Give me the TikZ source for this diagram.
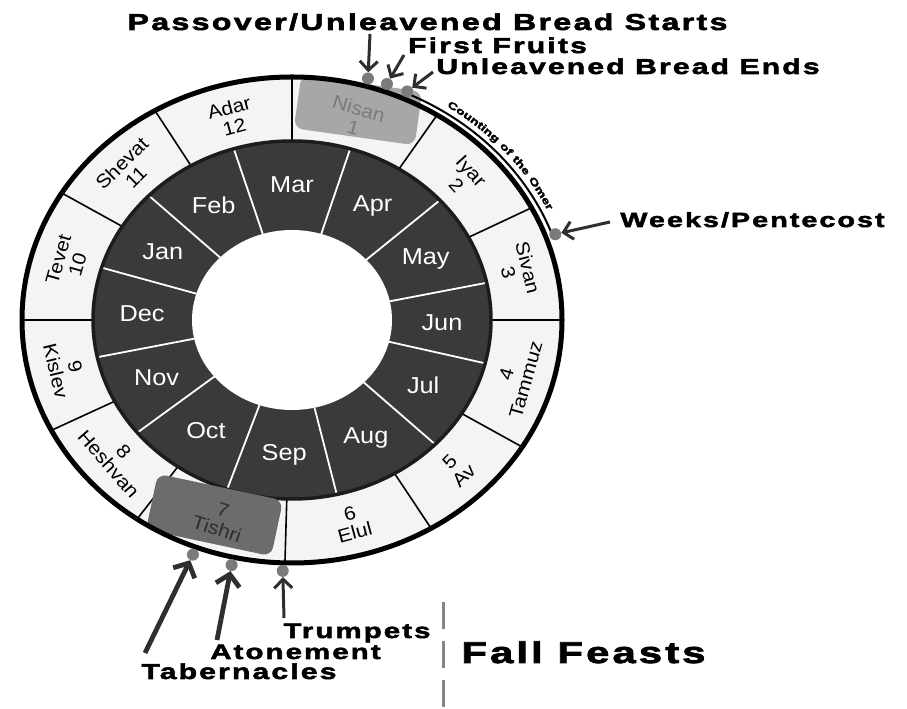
\documentclass[tikz,border=0pt]{standalone}
\usepackage{fontspec}
\setmainfont{Liberation Sans}
\newfontfamily\ringfont[FakeStretch=1.1]{Liberation Sans}
\newfontfamily\feastfont[FakeStretch=1.4,LetterSpace=10,FakeBold=2.5]{Liberation Sans Bold}
\newcommand\omerfont{\feastfont\fontsize{10}{10}\selectfont}
\usetikzlibrary{arrows.meta,decorations.text}

\definecolor{ringwhite}{HTML}{F4F4F4}
\definecolor{ringdark}{HTML}{3A3A3A}
\definecolor{ringedge}{HTML}{1C1C1C}
\definecolor{nisangray}{HTML}{A7A7A7}
\definecolor{nisantext}{HTML}{7A7A7A}
\definecolor{tishrigray}{HTML}{6C6C6C}
\definecolor{tishritext}{HTML}{2E2E2E}
\definecolor{dotgray}{HTML}{7B7B7B}
\definecolor{arrowgray}{HTML}{2F2F2F}
\definecolor{dashgray}{HTML}{858585}

\tikzset{
  hebmonth/.style={font=\ringfont\fontsize{19}{20}\selectfont, align=center, inner sep=0pt},
  civmonth/.style={font=\ringfont\fontsize{23}{23}\selectfont, text=white, inner sep=0pt},
  feastlabel/.style={font=\feastfont\fontsize{21.5}{22}\selectfont, anchor=base, inner sep=0pt},
  feastdot/.style={circle, fill=dotgray, minimum size=12pt, inner sep=0pt},
  feastarrow/.style={draw=arrowgray, line width=3pt, -{Straight Barb[length=9pt,width=18pt]}},
  bigarrow/.style={draw=arrowgray, line width=4.8pt, -{Straight Barb[length=11pt,width=24pt]}},
  monthbox/.style={rounded corners=9pt, inner sep=0pt}
}

\begin{document}
\begin{tikzpicture}[x=1pt,y=1pt]
  \fill[white] (0,0) rectangle (907,709);
  \useasboundingbox (0,0) rectangle (907,709);

  % the wheel
  \begin{scope}[shift={(292,389)}]
    \fill[ringwhite] (0,0) circle[x radius=270, y radius=243];
    \foreach \a in {90,57.5,27.5,0,-31.5,-59,-91.5,-125,-153,180,148.5,120.5}
      \draw[line width=1.6pt] (\a:199 and 179) -- (\a:270 and 243);

    \fill[ringdark] (0,0) circle[x radius=199, y radius=179];
    \fill[white] (0,0) circle[x radius=100, y radius=90];
    \foreach \a in {107,73,42,12,-14,-44,-77,-109,-141,-168,163,136}
      \draw[white, line width=1.8pt] (\a:100 and 90) -- (\a:199 and 179);
    \draw[ringedge, line width=3.5pt] (0,0) circle[x radius=199, y radius=179];

    % highlighted months
    \node[monthbox, fill=nisangray, minimum width=122pt, minimum height=54pt, rotate=-8] (nisanbox) at (66,210) {};
    \node[monthbox, fill=tishrigray, minimum width=128pt, minimum height=57pt, rotate=-12] (tishribox) at (-77.5,-195) {};

    % hebrew months
    \node[hebmonth, text=nisantext, rotate=-16] (nisan) at (74:233 and 210) {Nisan\\1};
    \node[hebmonth, rotate=-47.5] (iyar) at (42.5:233 and 210) {Iyar\\2};
    \node[hebmonth, rotate=-76.25] (sivan) at (13.75:233 and 210) {Sivan\\3};
    \node[hebmonth, rotate=74.25] (tammuz) at (-15.75:233 and 210) {4\\Tammuz};
    \node[hebmonth, rotate=45] (av) at (-45:233 and 210) {5\\Av};
    \node[hebmonth, rotate=15] (elul) at (-75:233 and 210) {6\\Elul};
    \node[hebmonth, text=tishritext, rotate=-18] (tishri) at (-108:233 and 210) {7\\Tishri};
    \node[hebmonth, rotate=-49] (heshvan) at (-139:233 and 210) {8\\Heshvan};
    \node[hebmonth, rotate=-76.5] (kislev) at (-166.5:233 and 210) {9\\Kislev};
    \node[hebmonth, rotate=74] (tevet) at (164:233 and 210) {Tevet\\10};
    \node[hebmonth, rotate=44.5] (shevat) at (134.5:233 and 210) {Shevat\\11};
    \node[hebmonth, rotate=15] (adar) at (105:233 and 210) {Adar\\12};

    % civil months
    \foreach \a/\m in {90/Mar,57.5/Apr,27/May,-1/Jun,-29/Jul,-60.5/Aug,-93/Sep,-125/Oct,-154.5/Nov,177.5/Dec,149.5/Jan,121.5/Feb}
      \node[civmonth] (\m) at (\a:150 and 135) {\m};

    \draw[line width=5pt] (0,0) circle[x radius=270, y radius=243];

    % counting of the omer
    \draw[line width=2pt] (65.6:277 and 249) arc[start angle=65.6, end angle=19.9, x radius=277, y radius=249];
    \path[decorate, decoration={text along path, text={|\omerfont|Counting of the Omer}, text align=center}]
      (61:283 and 255) arc[start angle=61, end angle=21, x radius=283, y radius=255];

    % feast dots
    \node[feastdot] (dpass) at (74.2:279 and 251) {};
    \node[feastdot] (dfruit) at (70.1:279 and 251) {};
    \node[feastdot] (dbread) at (65.6:279 and 251) {};
    \node[feastdot] (dweeks) at (19.9:280 and 252) {};
    \node[feastdot] (dtrump) at (-91.9:279 and 251) {};
    \node[feastdot] (daton) at (-102.5:279 and 251) {};
    \node[feastdot] (dtaber) at (-110.8:279 and 251) {};
  \end{scope}

  % spring feasts
  \node[feastlabel, font=\feastfont\fontsize{23}{23}\selectfont] (pass) at (427.5,679) {Passover/Unleavened Bread Starts};
  \node[feastlabel] (fruit) at (497.5,656) {First Fruits};
  \node[feastlabel] (bread) at (628,635) {Unleavened Bread Ends};
  \node[feastlabel, font=\feastfont\fontsize{20.5}{21}\selectfont] (weeks) at (752.5,482) {Weeks/Pentecost};

  % fall feasts
  \node[feastlabel, font=\feastfont\fontsize{21}{21}\selectfont] (trump) at (357,71) {Trumpets};
  \node[feastlabel, font=\feastfont\fontsize{21}{21}\selectfont] (aton) at (295.5,50) {Atonement};
  \node[feastlabel] (taber) at (239,30) {Tabernacles};
  \node[feastlabel, font=\feastfont\fontsize{30}{30}\selectfont] (fall) at (583.5,46) {Fall Feasts};

  \coordinate (passtail) at (370,675);
  \coordinate (fruittail) at (404,654);
  \coordinate (breadtail) at (433,637);
  \coordinate (weekstail) at (610,487);
  \coordinate (trumptail) at (284,91);
  \coordinate (atontail) at (217,69);
  \coordinate (tabertail) at (145,56);

  \draw[feastarrow] (passtail) -- (dpass);
  \draw[feastarrow] (fruittail) -- (dfruit);
  \draw[feastarrow] (breadtail) -- (dbread);
  \draw[feastarrow] (weekstail) -- (dweeks);
  \draw[feastarrow] (trumptail) -- (dtrump);
  \draw[bigarrow] (atontail) -- (daton);
  \draw[bigarrow] (tabertail) -- (dtaber);

  \draw[dashgray, line width=3pt, dash pattern=on 27pt off 12pt] (443,107) -- (443,0);
\end{tikzpicture}
\end{document}
